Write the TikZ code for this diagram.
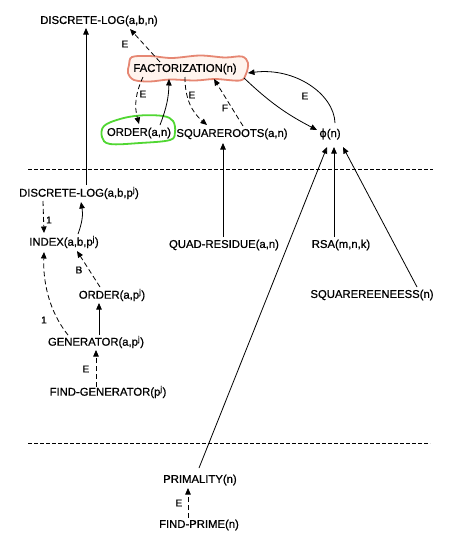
\documentclass[tikz,border=0pt]{standalone}
\usepackage{fontspec}
\setmainfont{Liberation Sans}[FakeBold=0.7]
\newfontfamily\phifont{DejaVu Sans}[FakeBold=0.7]
\usetikzlibrary{arrows.meta,calc}
\begin{document}
\begin{tikzpicture}[x=1pt,y=-1pt,
  lbl/.style={font=\fontsize{11.3}{13}\selectfont, inner sep=1pt},
  elbl/.style={font=\fontsize{10}{12}\selectfont, inner sep=0.5pt},
  arr/.style={-{Triangle[length=6.5pt,width=5.5pt]}, line width=0.8pt},
  dsh/.style={arr, dash pattern=on 5pt off 3pt},
  sep/.style={line width=0.7pt, dash pattern=on 3.5pt off 2.5pt},
  hlo/.style={draw={rgb,255:red,230;green,135;blue,115}, line width=1.8pt, fill={rgb,255:red,255;green,244;blue,238}},
  hlg/.style={draw={rgb,255:red,80;green,215;blue,50}, line width=1.8pt}]
\useasboundingbox (0,0) rectangle (458,536);
\fill[white] (0,0) rectangle (458,536);
% highlights
\draw[hlo] plot[smooth cycle, tension=0.55] coordinates {(132,57) (150,56) (172,58) (200,55.5) (225,57.5) (242,56.5) (248,63) (246,74) (240,80.5) (215,79) (195,80.5) (170,79.5) (150,81.5) (134,80) (128,73) (129,65)};
\draw[hlg] plot[smooth cycle, tension=0.6] coordinates {(104,126) (120,119) (140,115.5) (163,116) (173,121) (175,132) (170,140) (140,143) (110,144) (102,137)};
% nodes
\node[lbl] (dln) at (99,21) {DISCRETE-LOG(a,b,n)};
\node[lbl] (fact) at (185,69) {FACTORIZATION(n)};
\node[lbl] (ordn) at (139,133) {ORDER(a,n)};
\node[lbl] (sqr) at (232,134) {SQUAREROOTS(a,n)};
\node[lbl] (phi) at (330,134) {{\phifont ϕ}(n)};
\node[lbl] (dlp) at (79,193) {DISCRETE-LOG(a,b,p\textsuperscript{j})};
\node[lbl] (idx) at (64,242) {INDEX(a,b,p\textsuperscript{j})};
\node[lbl] (qr) at (224,245) {QUAD-RESIDUE(a,n)};
\node[lbl] (rsa) at (341,245) {RSA(m,n,k)};
\node[lbl] (ordp) at (112,295) {ORDER(a,p\textsuperscript{j})};
\node[lbl] (sqf) at (372,295) {SQUAREREENEESS(n)};
\node[lbl] (gen) at (96,342) {GENERATOR(a,p\textsuperscript{j})};
\node[lbl] (fgen) at (108,392) {FIND-GENERATOR(p\textsuperscript{j})};
\node[lbl] (prim) at (200,480) {PRIMALITY(n)};
\node[lbl] (fprime) at (199,525) {FIND-PRIME(n)};
% separators
\draw[sep] (28,169) -- (433,169);
\draw[sep] (28,443) -- (430,443);
% edges
\draw[arr] ($(dlp)+(7,-8)$) -- ($(dln)+(-13,7)$);
\draw[dsh] ($(fact)+(-25,-7)$) -- ($(dln)+(31,8)$);
\draw[dsh] ($(fact)+(-42,8)$) to[bend right=20] ($(ordn)+(0,-9)$);
\draw[arr] ($(ordn)+(21,-8)$) to[bend right=10] ($(fact)+(-16,10)$);
\draw[dsh] ($(fact)+(0,8)$) to[bend right=25] ($(sqr)+(-25,-9)$);
\draw[dsh] ($(sqr)+(11,-8)$) -- ($(fact)+(29,10)$);
\draw[arr] ($(fact)+(59,9)$) to[bend right=8] ($(phi)+(-13,-4)$);
\draw[arr] ($(phi)+(5,-11)$) .. controls ($(phi)+(4,-40)$) and ($(fact)+(110,-2)$) .. ($(fact)+(63,4)$);
\draw[arr] ($(qr)+(-1,-8)$) -- ($(sqr)+(-9,9)$);
\draw[arr] ($(rsa)+(-7,-8)$) -- ($(phi)+(4,13)$);
\draw[arr] ($(sqf)+(45,-8)$) -- ($(phi)+(13,13)$);
\draw[arr] ($(prim)+(-1,-12)$) -- ($(phi)+(-3,13)$);
\draw[dsh] ($(dlp)+(-36,8)$) -- ($(idx)+(-20,-9)$);
\draw[arr] ($(idx)+(14,-8)$) to[bend right=15] ($(dlp)+(2,9)$);
\draw[dsh] ($(ordp)+(-12,-8)$) -- ($(idx)+(13,9)$);
\draw[dsh] ($(gen)+(-28,-7)$) .. controls ($(gen)+(-48,-32)$) and ($(idx)+(-21,38)$) .. ($(idx)+(-20,10)$);
\draw[arr] ($(gen)+(3,-7)$) -- ($(ordp)+(-13,8)$);
\draw[dsh] ($(fgen)+(-12,-5)$) -- ($(gen)+(0,8)$);
\draw[dsh] ($(fprime)+(-11,-7)$) -- ($(prim)+(-12,8)$);
% edge labels
\node[elbl] (l1) at (125,44) {E};
\node[elbl] (l2) at (143,94) {E};
\node[elbl] (l3) at (192,95) {E};
\node[elbl] (l4) at (225,108) {F};
\node[elbl] (l5) at (305,96) {E};
\node[elbl] (l6) at (49,220) {1};
\node[elbl] (l7) at (79,270) {B};
\node[elbl] (l8) at (44,320) {1};
\node[elbl] (l9) at (86,369) {E};
\node[elbl] (l10) at (179,503) {E};
\end{tikzpicture}
\end{document}
